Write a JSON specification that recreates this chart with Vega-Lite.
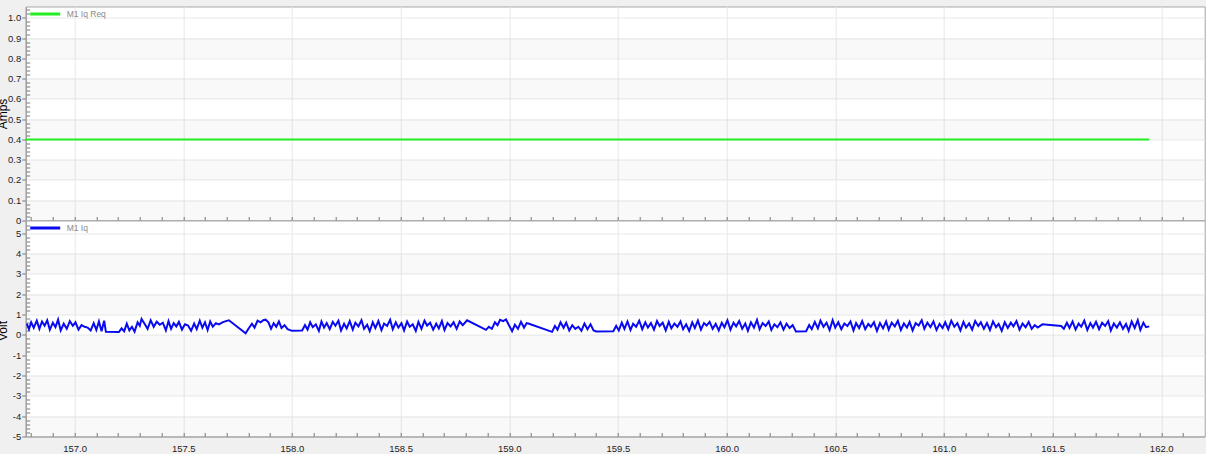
{
"$schema": "https://vega.github.io/schema/vega-lite/v6.json",
"background": "#f0f0f0",
"padding": {"left": -4.3, "top": -3.5, "right": 0, "bottom": 0},
"spacing": 0,
"bounds": "flush",
"config": {
  "view": {"fill": "white", "stroke": "#a8a8a8", "strokeWidth": 1},
  "axis": {"labelFont": "Liberation Sans", "labelFontSize": 9.5, "labelColor": "#222222", "domainColor": "#9a9a9a", "tickColor": "#7a7a7a", "gridColor": "#e8e8e8", "titleFont": "Liberation Sans", "titleFontSize": 12, "titleFontWeight": "normal", "titleColor": "#000000"},
  "legend": {"symbolType": "stroke", "symbolSize": 900, "symbolStrokeWidth": 3, "labelFont": "Liberation Sans", "labelFontSize": 8.5, "labelColor": "#8a8a8a", "labelOffset": 5, "padding": 0, "title": null}
},
"datasets": {
  "req": [{"t": 156.775, "v": 0.4}, {"t": 158.0, "v": 0.4}, {"t": 159.0, "v": 0.4}, {"t": 160.0, "v": 0.4}, {"t": 161.0, "v": 0.4}, {"t": 161.945, "v": 0.4}],
  "bandsTop": [{"y0": 0, "y1": 0.1}, {"y0": 0.2, "y1": 0.3}, {"y0": 0.4, "y1": 0.5}, {"y0": 0.6, "y1": 0.7}, {"y0": 0.8, "y1": 0.9}],
  "bandsBot": [{"y0": -5, "y1": -4}, {"y0": -3, "y1": -2}, {"y0": -1, "y1": 0}, {"y0": 1, "y1": 2}, {"y0": 3, "y1": 4}],
  "iq": [
{"t":156.780,"v":0.55},{"t":156.790,"v":0.28},{"t":156.800,"v":0.62},{"t":156.812,"v":0.35},{"t":156.826,"v":0.70},{"t":156.838,"v":0.30},{"t":156.850,"v":0.66},{"t":156.862,"v":0.45},{"t":156.874,"v":0.72},{"t":156.886,"v":0.25},
{"t":156.900,"v":0.60},{"t":156.912,"v":0.38},{"t":156.924,"v":0.75},{"t":156.936,"v":0.22},{"t":156.950,"v":0.55},{"t":156.964,"v":0.30},{"t":156.978,"v":0.68},{"t":156.992,"v":0.45},{"t":157.004,"v":0.62},{"t":157.018,"v":0.26},
{"t":157.032,"v":0.48},{"t":157.046,"v":0.40},{"t":157.060,"v":0.36},{"t":157.074,"v":0.22},{"t":157.088,"v":0.58},{"t":157.100,"v":0.24},{"t":157.112,"v":0.66},{"t":157.124,"v":0.18},{"t":157.136,"v":0.70},{"t":157.144,"v":0.15},
{"t":157.204,"v":0.14},{"t":157.216,"v":0.32},{"t":157.228,"v":0.18},{"t":157.240,"v":0.55},{"t":157.252,"v":0.22},{"t":157.264,"v":0.40},{"t":157.276,"v":0.16},{"t":157.290,"v":0.62},{"t":157.300,"v":0.45},{"t":157.308,"v":0.78},
{"t":157.322,"v":0.55},{"t":157.336,"v":0.30},{"t":157.350,"v":0.72},{"t":157.364,"v":0.40},{"t":157.378,"v":0.65},{"t":157.392,"v":0.50},{"t":157.406,"v":0.60},{"t":157.420,"v":0.22},{"t":157.432,"v":0.68},{"t":157.444,"v":0.30},
{"t":157.456,"v":0.58},{"t":157.468,"v":0.42},{"t":157.480,"v":0.64},{"t":157.494,"v":0.26},{"t":157.508,"v":0.52},{"t":157.522,"v":0.46},{"t":157.536,"v":0.20},{"t":157.550,"v":0.56},{"t":157.562,"v":0.28},{"t":157.576,"v":0.70},
{"t":157.588,"v":0.35},{"t":157.600,"v":0.62},{"t":157.612,"v":0.24},{"t":157.624,"v":0.66},{"t":157.636,"v":0.40},{"t":157.650,"v":0.58},{"t":157.664,"v":0.52},{"t":157.680,"v":0.62},{"t":157.696,"v":0.68},{"t":157.710,"v":0.72},
{"t":157.787,"v":0.08},{"t":157.800,"v":0.30},{"t":157.816,"v":0.55},{"t":157.828,"v":0.36},{"t":157.842,"v":0.70},{"t":157.856,"v":0.62},{"t":157.868,"v":0.72},{"t":157.879,"v":0.75},{"t":157.892,"v":0.62},{"t":157.904,"v":0.30},
{"t":157.916,"v":0.58},{"t":157.928,"v":0.40},{"t":157.940,"v":0.66},{"t":157.952,"v":0.34},{"t":157.966,"v":0.48},{"t":157.980,"v":0.28},{"t":158.000,"v":0.20},{"t":158.047,"v":0.22},{"t":158.060,"v":0.48},{"t":158.072,"v":0.26},
{"t":158.084,"v":0.62},{"t":158.096,"v":0.38},{"t":158.110,"v":0.52},{"t":158.124,"v":0.20},{"t":158.136,"v":0.66},{"t":158.148,"v":0.36},{"t":158.160,"v":0.58},{"t":158.174,"v":0.28},{"t":158.188,"v":0.64},{"t":158.200,"v":0.45},
{"t":158.214,"v":0.70},{"t":158.226,"v":0.22},{"t":158.240,"v":0.55},{"t":158.252,"v":0.32},{"t":158.266,"v":0.68},{"t":158.280,"v":0.26},{"t":158.292,"v":0.60},{"t":158.306,"v":0.42},{"t":158.320,"v":0.72},{"t":158.332,"v":0.30},
{"t":158.346,"v":0.50},{"t":158.358,"v":0.18},{"t":158.372,"v":0.62},{"t":158.384,"v":0.34},{"t":158.398,"v":0.68},{"t":158.412,"v":0.24},{"t":158.424,"v":0.56},{"t":158.438,"v":0.44},{"t":158.452,"v":0.74},{"t":158.464,"v":0.28},
{"t":158.478,"v":0.62},{"t":158.490,"v":0.36},{"t":158.504,"v":0.58},{"t":158.516,"v":0.22},{"t":158.530,"v":0.66},{"t":158.542,"v":0.40},{"t":158.556,"v":0.52},{"t":158.570,"v":0.20},{"t":158.582,"v":0.64},{"t":158.596,"v":0.30},
{"t":158.610,"v":0.70},{"t":158.622,"v":0.46},{"t":158.636,"v":0.60},{"t":158.650,"v":0.26},{"t":158.664,"v":0.55},{"t":158.676,"v":0.32},{"t":158.690,"v":0.68},{"t":158.702,"v":0.24},{"t":158.716,"v":0.58},{"t":158.730,"v":0.42},
{"t":158.744,"v":0.62},{"t":158.758,"v":0.30},{"t":158.772,"v":0.66},{"t":158.786,"v":0.48},{"t":158.806,"v":0.72},{"t":158.893,"v":0.25},{"t":158.906,"v":0.40},{"t":158.920,"v":0.30},{"t":158.934,"v":0.62},{"t":158.946,"v":0.48},
{"t":158.958,"v":0.74},{"t":158.972,"v":0.68},{"t":158.985,"v":0.76},{"t":159.000,"v":0.45},{"t":159.013,"v":0.18},{"t":159.026,"v":0.50},{"t":159.040,"v":0.30},{"t":159.054,"v":0.64},{"t":159.068,"v":0.36},{"t":159.080,"v":0.58},
{"t":159.091,"v":0.55},{"t":159.197,"v":0.15},{"t":159.210,"v":0.44},{"t":159.222,"v":0.26},{"t":159.236,"v":0.62},{"t":159.250,"v":0.35},{"t":159.262,"v":0.60},{"t":159.276,"v":0.22},{"t":159.290,"v":0.48},{"t":159.304,"v":0.30},
{"t":159.318,"v":0.40},{"t":159.332,"v":0.20},{"t":159.346,"v":0.56},{"t":159.360,"v":0.28},{"t":159.374,"v":0.52},{"t":159.388,"v":0.22},{"t":159.400,"v":0.17},{"t":159.479,"v":0.18},{"t":159.492,"v":0.45},{"t":159.504,"v":0.22},
{"t":159.518,"v":0.60},{"t":159.530,"v":0.30},{"t":159.544,"v":0.66},{"t":159.558,"v":0.24},{"t":159.570,"v":0.55},{"t":159.584,"v":0.40},{"t":159.598,"v":0.70},{"t":159.612,"v":0.28},{"t":159.626,"v":0.62},{"t":159.638,"v":0.36},
{"t":159.652,"v":0.58},{"t":159.666,"v":0.26},{"t":159.680,"v":0.68},{"t":159.692,"v":0.44},{"t":159.706,"v":0.60},{"t":159.720,"v":0.22},{"t":159.734,"v":0.64},{"t":159.746,"v":0.32},{"t":159.760,"v":0.56},{"t":159.774,"v":0.40},
{"t":159.788,"v":0.66},{"t":159.800,"v":0.28},{"t":159.814,"v":0.52},{"t":159.828,"v":0.20},{"t":159.842,"v":0.62},{"t":159.854,"v":0.34},{"t":159.868,"v":0.70},{"t":159.882,"v":0.26},{"t":159.896,"v":0.58},{"t":159.908,"v":0.46},
{"t":159.922,"v":0.64},{"t":159.936,"v":0.30},{"t":159.950,"v":0.54},{"t":159.964,"v":0.22},{"t":159.978,"v":0.60},{"t":159.990,"v":0.38},{"t":160.004,"v":0.72},{"t":160.018,"v":0.26},{"t":160.032,"v":0.60},{"t":160.044,"v":0.42},
{"t":160.058,"v":0.68},{"t":160.072,"v":0.30},{"t":160.086,"v":0.56},{"t":160.098,"v":0.20},{"t":160.112,"v":0.62},{"t":160.126,"v":0.36},{"t":160.140,"v":0.74},{"t":160.152,"v":0.28},{"t":160.166,"v":0.58},{"t":160.180,"v":0.44},
{"t":160.194,"v":0.66},{"t":160.206,"v":0.24},{"t":160.220,"v":0.52},{"t":160.234,"v":0.38},{"t":160.248,"v":0.62},{"t":160.262,"v":0.26},{"t":160.276,"v":0.55},{"t":160.290,"v":0.34},{"t":160.304,"v":0.48},{"t":160.319,"v":0.17},
{"t":160.366,"v":0.18},{"t":160.380,"v":0.48},{"t":160.392,"v":0.28},{"t":160.406,"v":0.64},{"t":160.420,"v":0.32},{"t":160.432,"v":0.70},{"t":160.446,"v":0.40},{"t":160.460,"v":0.60},{"t":160.474,"v":0.24},{"t":160.488,"v":0.72},
{"t":160.500,"v":0.36},{"t":160.514,"v":0.62},{"t":160.528,"v":0.28},{"t":160.542,"v":0.56},{"t":160.556,"v":0.44},{"t":160.570,"v":0.66},{"t":160.584,"v":0.22},{"t":160.596,"v":0.58},{"t":160.610,"v":0.34},{"t":160.624,"v":0.68},
{"t":160.638,"v":0.28},{"t":160.652,"v":0.54},{"t":160.664,"v":0.40},{"t":160.678,"v":0.62},{"t":160.692,"v":0.20},{"t":160.706,"v":0.58},{"t":160.720,"v":0.32},{"t":160.734,"v":0.66},{"t":160.746,"v":0.26},{"t":160.760,"v":0.60},
{"t":160.774,"v":0.42},{"t":160.788,"v":0.70},{"t":160.802,"v":0.24},{"t":160.816,"v":0.56},{"t":160.830,"v":0.36},{"t":160.842,"v":0.64},{"t":160.856,"v":0.22},{"t":160.870,"v":0.58},{"t":160.884,"v":0.46},{"t":160.898,"v":0.72},
{"t":160.910,"v":0.30},{"t":160.924,"v":0.60},{"t":160.938,"v":0.38},{"t":160.952,"v":0.66},{"t":160.966,"v":0.24},{"t":160.980,"v":0.54},{"t":160.994,"v":0.34},{"t":161.006,"v":0.62},{"t":161.020,"v":0.28},{"t":161.034,"v":0.70},
{"t":161.048,"v":0.40},{"t":161.062,"v":0.58},{"t":161.076,"v":0.22},{"t":161.090,"v":0.64},{"t":161.102,"v":0.36},{"t":161.116,"v":0.56},{"t":161.130,"v":0.26},{"t":161.144,"v":0.68},{"t":161.158,"v":0.44},{"t":161.170,"v":0.62},
{"t":161.184,"v":0.30},{"t":161.198,"v":0.58},{"t":161.212,"v":0.24},{"t":161.226,"v":0.66},{"t":161.240,"v":0.38},{"t":161.252,"v":0.54},{"t":161.266,"v":0.20},{"t":161.280,"v":0.62},{"t":161.294,"v":0.34},{"t":161.308,"v":0.60},
{"t":161.320,"v":0.42},{"t":161.334,"v":0.68},{"t":161.348,"v":0.26},{"t":161.362,"v":0.56},{"t":161.376,"v":0.38},{"t":161.390,"v":0.64},{"t":161.404,"v":0.30},{"t":161.418,"v":0.48},{"t":161.432,"v":0.36},{"t":161.453,"v":0.52},
{"t":161.540,"v":0.44},{"t":161.552,"v":0.30},{"t":161.566,"v":0.60},{"t":161.578,"v":0.34},{"t":161.592,"v":0.66},{"t":161.606,"v":0.26},{"t":161.620,"v":0.56},{"t":161.632,"v":0.40},{"t":161.646,"v":0.70},{"t":161.660,"v":0.24},
{"t":161.674,"v":0.58},{"t":161.686,"v":0.36},{"t":161.700,"v":0.64},{"t":161.714,"v":0.28},{"t":161.728,"v":0.60},{"t":161.742,"v":0.44},{"t":161.756,"v":0.68},{"t":161.768,"v":0.22},{"t":161.782,"v":0.56},{"t":161.796,"v":0.36},
{"t":161.810,"v":0.62},{"t":161.824,"v":0.30},{"t":161.838,"v":0.54},{"t":161.850,"v":0.20},{"t":161.864,"v":0.66},{"t":161.878,"v":0.34},{"t":161.892,"v":0.72},{"t":161.904,"v":0.24},{"t":161.918,"v":0.60},{"t":161.930,"v":0.38},
{"t":161.945,"v":0.42}
  ]
},
"resolve": {"scale": {"x": "independent", "y": "independent", "color": "independent"}, "legend": {"color": "independent"}},
"vconcat": [
  {
    "width": 1179, "height": 214,
    "layer": [
      {
        "data": {"name": "bandsTop"},
        "mark": {"type": "rect", "fill": "#000000", "opacity": 0.025},
        "encoding": {
          "x": {"datum": 156.775, "type": "quantitative", "scale": {"domain": [156.775, 162.2], "nice": false, "zero": false},
                "axis": {"orient": "bottom", "title": null, "labels": false, "grid": false, "domain": false, "tickSize": -4,
                         "values": [156.8,156.9,157,157.1,157.2,157.3,157.4,157.5,157.6,157.7,157.8,157.9,158,158.1,158.2,158.3,158.4,158.5,158.6,158.7,158.8,158.9,159,159.1,159.2,159.3,159.4,159.5,159.6,159.7,159.8,159.9,160,160.1,160.2,160.3,160.4,160.5,160.6,160.7,160.8,160.9,161,161.1,161.2,161.3,161.4,161.5,161.6,161.7,161.8,161.9,162,162.1]}},
          "x2": {"datum": 162.2},
          "y": {"field": "y0", "type": "quantitative", "scale": {"domain": [0, 1.0557], "nice": false, "zero": false},
                "axis": {"orient": "left", "title": null, "labels": false, "grid": false, "domain": false, "tickSize": -4,
                         "values": [0.02,0.04,0.06,0.08,0.12,0.14,0.16,0.18,0.22,0.24,0.26,0.28,0.32,0.34,0.36,0.38,0.42,0.44,0.46,0.48,0.52,0.54,0.56,0.58,0.62,0.64,0.66,0.68,0.72,0.74,0.76,0.78,0.82,0.84,0.86,0.88,0.92,0.94,0.96,0.98,1.02,1.04]}},
          "y2": {"field": "y1"}
        }
      },
      {
        "data": {"name": "req"},
        "mark": {"type": "line", "strokeWidth": 2},
        "encoding": {
          "x": {"field": "t", "type": "quantitative",
                "axis": {"orient": "bottom", "title": null, "labels": false, "ticks": false, "grid": true, "values": [157,157.5,158,158.5,159,159.5,160,160.5,161,161.5,162]}},
          "y": {"field": "v", "type": "quantitative",
                "axis": {"orient": "left", "values": [0,0.1,0.2,0.3,0.4,0.5,0.6,0.7,0.8,0.9,1.0], "labelExpr": "datum.value == 0 ? '0' : format(datum.value, '.1f')",
                         "tickSize": 4, "labelPadding": 1, "grid": true, "title": "Amps", "titleX": -23, "titleY": 107, "titleBaseline": "middle", "titleAngle": 270, "titleAlign": "center"}},
          "color": {"datum": "M1 Iq Req", "type": "nominal", "scale": {"domain": ["M1 Iq Req"], "range": ["#22ee22"]},
                    "legend": {"orient": "none", "legendX": 3, "legendY": -9}}
        }
      }
    ],
    "resolve": {"axis": {"x": "independent", "y": "independent"}}
  },
  {
    "width": 1179, "height": 216,
    "layer": [
      {
        "data": {"name": "bandsBot"},
        "mark": {"type": "rect", "fill": "#000000", "opacity": 0.025},
        "encoding": {
          "x": {"datum": 156.775, "type": "quantitative", "scale": {"domain": [156.775, 162.2], "nice": false, "zero": false},
                "axis": {"orient": "bottom", "title": null, "labels": false, "grid": false, "domain": false, "tickSize": -4,
                         "values": [156.8,156.9,157,157.1,157.2,157.3,157.4,157.5,157.6,157.7,157.8,157.9,158,158.1,158.2,158.3,158.4,158.5,158.6,158.7,158.8,158.9,159,159.1,159.2,159.3,159.4,159.5,159.6,159.7,159.8,159.9,160,160.1,160.2,160.3,160.4,160.5,160.6,160.7,160.8,160.9,161,161.1,161.2,161.3,161.4,161.5,161.6,161.7,161.8,161.9,162,162.1]}},
          "x2": {"datum": 162.2},
          "y": {"field": "y0", "type": "quantitative", "scale": {"domain": [-5, 5.63], "nice": false, "zero": false},
                "axis": {"orient": "left", "title": null, "labels": false, "grid": false, "domain": false, "tickSize": -4,
                         "values": [-4.8,-4.6,-4.4,-4.2,-3.8,-3.6,-3.4,-3.2,-2.8,-2.6,-2.4,-2.2,-1.8,-1.6,-1.4,-1.2,-0.8,-0.6,-0.4,-0.2,0.2,0.4,0.6,0.8,1.2,1.4,1.6,1.8,2.2,2.4,2.6,2.8,3.2,3.4,3.6,3.8,4.2,4.4,4.6,4.8,5.2,5.4]}},
          "y2": {"field": "y1"}
        }
      },
      {
        "data": {"name": "iq"},
        "mark": {"type": "line", "strokeWidth": 2},
        "encoding": {
          "x": {"field": "t", "type": "quantitative",
                "axis": {"orient": "bottom", "title": null, "format": ".1f", "ticks": false, "grid": true, "labelPadding": 7, "values": [157,157.5,158,158.5,159,159.5,160,160.5,161,161.5,162]}},
          "y": {"field": "v", "type": "quantitative",
                "axis": {"orient": "left", "values": [-5,-4,-3,-2,-1,0,1,2,3,4,5], "labelExpr": "'' + datum.value",
                         "tickSize": 4, "labelPadding": 1, "grid": true, "title": "Volt", "titleX": -23, "titleY": 110, "titleBaseline": "middle", "titleAngle": 270, "titleAlign": "center"}},
          "color": {"datum": "M1 Iq", "type": "nominal", "scale": {"domain": ["M1 Iq"], "range": ["#0a0af0"]},
                    "legend": {"orient": "none", "legendX": 3, "legendY": -9, "symbolStrokeColor": "#1c1c9c"}}
        }
      }
    ],
    "resolve": {"axis": {"x": "independent", "y": "independent"}}
  }
]
}
